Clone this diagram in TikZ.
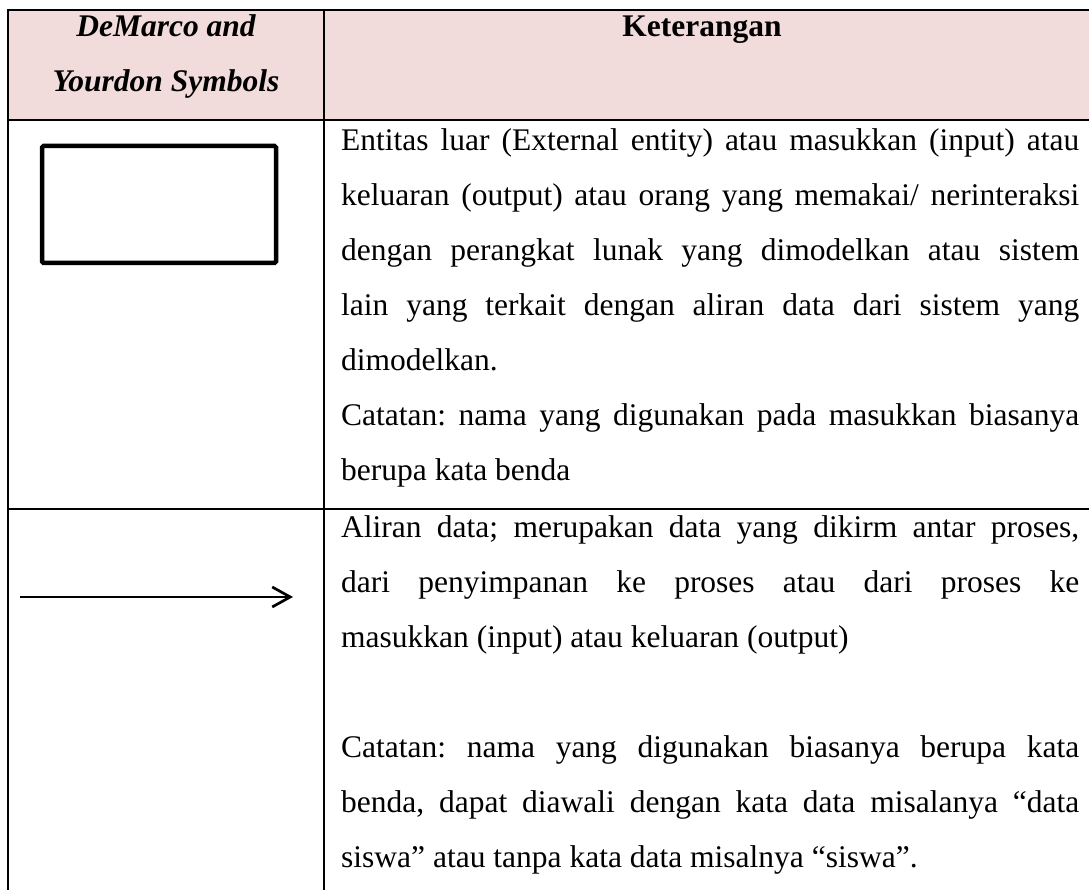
\documentclass[tikz,border=0pt]{standalone}
\usepackage{fontspec}
\setmainfont{Liberation Serif}
\usetikzlibrary{arrows.meta}
\definecolor{headpink}{HTML}{F2DCDB}
\frenchspacing
\newcommand\jline[1]{\makebox[738pt][s]{#1}}
\begin{document}
\begin{tikzpicture}[x=1pt,y=1pt,
  grid/.style={line width=2.2pt,black},
  txt/.style={anchor=base west,inner sep=0pt,font=\fontsize{31.5}{40}\selectfont},
  headtxt/.style={anchor=base,inner sep=0pt,font=\fontsize{31.5}{40}\selectfont\bfseries},
  entitybox/.style={draw,line width=4.5pt,rounded corners=1.5pt,minimum width=234pt,minimum height=117pt,inner sep=0pt},
  flow/.style={line width=2.7pt,-{Straight Barb[length=18pt,width=20pt,line width=2.7pt]}}]
\useasboundingbox (0,0) rectangle (1089,890);
% header fill
\fill[headpink] (8,880) rectangle (1089,770);
% grid
\draw[grid] (8,0) -- (8,881.1);
\draw[grid] (324,0) -- (324,880);
\draw[grid] (6.9,880) -- (1089,880);
\draw[grid] (8,770) -- (1089,770);
\draw[grid] (8,381) -- (1089,381);
% header text
\node[headtxt,font=\fontsize{31.5}{40}\selectfont\bfseries\itshape] (h1) at (166,853.5) {DeMarco and};
\node[headtxt,font=\fontsize{31.5}{40}\selectfont\bfseries\itshape] (h2) at (166,798.5) {Yourdon Symbols};
\node[headtxt] (h3) at (702,853.5) {Keterangan};
% symbols
\node[entitybox] (entity) at (159,685.5) {};
\coordinate (flowA) at (20,293);
\coordinate (flowB) at (293,293);
\draw[flow] (flowA) -- (flowB);
% row 1 text
\node[txt] (a1) at (341,739) {\jline{Entitas luar (External entity) atau masukkan (input) atau}};
\node[txt] (a2) at (341,684) {\jline{keluaran (output) atau orang yang memakai/ nerinteraksi}};
\node[txt] (a3) at (341,629) {\jline{dengan perangkat lunak yang dimodelkan atau sistem}};
\node[txt] (a4) at (341,574) {\jline{lain yang terkait dengan aliran data dari sistem yang}};
\node[txt] (a5) at (341,519) {dimodelkan.};
\node[txt] (a6) at (341,464) {\jline{Catatan: nama yang digunakan pada masukkan biasanya}};
\node[txt] (a7) at (341,409) {berupa kata benda};
% row 2 text
\node[txt] (b1) at (341,352) {\jline{Aliran data; merupakan data yang dikirm antar proses,}};
\node[txt] (b2) at (341,297) {\jline{dari penyimpanan ke proses atau dari proses ke}};
\node[txt] (b3) at (341,242) {masukkan (input) atau keluaran (output)};
\node[txt] (b4) at (341,132) {\jline{Catatan: nama yang digunakan biasanya berupa kata}};
\node[txt] (b5) at (341,77) {\jline{benda, dapat diawali dengan kata data misalanya “data}};
\node[txt] (b6) at (341,22) {siswa” atau tanpa kata data misalnya “siswa”.};
\end{tikzpicture}
\end{document}
